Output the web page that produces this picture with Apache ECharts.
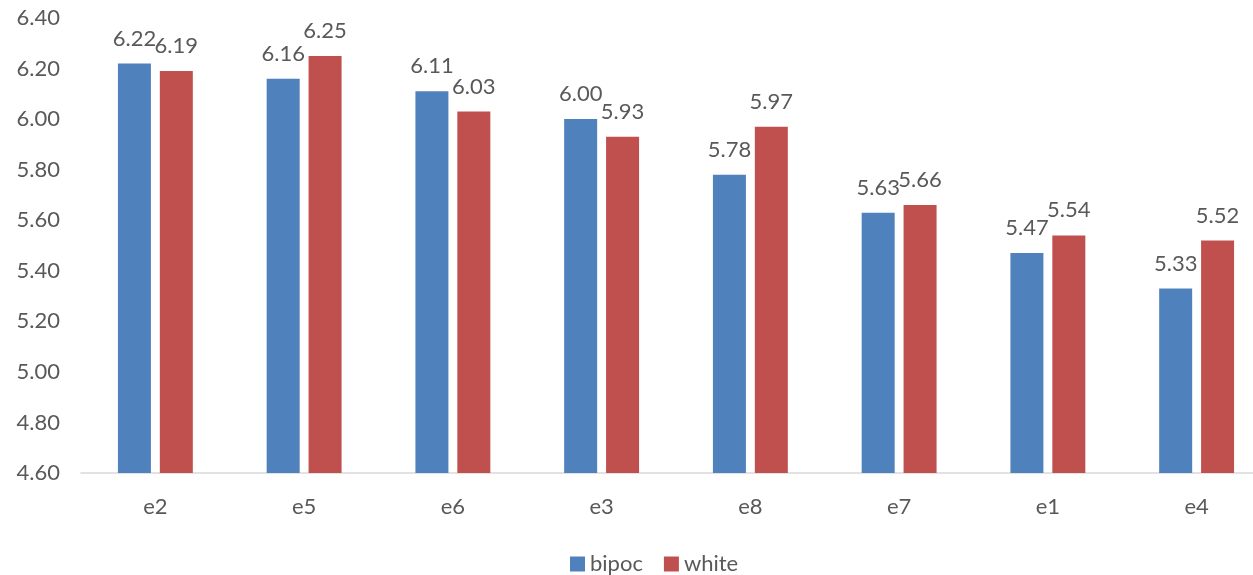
<!DOCTYPE html>
<html>
<head>
<meta charset="utf-8">
<script src="https://cdn.jsdelivr.net/npm/echarts@6/dist/echarts.min.js"></script>
<style>
  html, body { margin: 0; padding: 0; background: #fff; }
  #chart { width: 1253px; height: 575px; }
</style>
</head>
<body>
<div id="chart"></div>
<script>
// Categories and mean scores per group
const categories = ['e2', 'e5', 'e6', 'e3', 'e8', 'e7', 'e1', 'e4'];
const bipoc = [6.22, 6.16, 6.11, 6.00, 5.78, 5.63, 5.47, 5.33];
const white = [6.19, 6.25, 6.03, 5.93, 5.97, 5.66, 5.54, 5.52];
const seriesNames = ['bipoc', 'white'];

const textColor = '#595959';
const fontFamily = 'Lato, "Open Sans", sans-serif';
const fontSize = 22;

const chart = echarts.init(document.getElementById('chart'));

const labelStyle = {
  show: true,
  position: 'top',
  distance: 14,
  color: textColor,
  fontSize: fontSize,
  fontFamily: fontFamily,
  formatter: p => p.value.toFixed(2)
};

chart.setOption({
  animation: false,
  // plot area runs past the right edge, so the last category is partly clipped
  grid: { left: 81, width: 1190, top: 18, bottom: 102, outerBoundsMode: 'none', containLabel: false },
  legend: {
    data: seriesNames,
    left: 565,
    top: 548,
    itemWidth: 15,
    itemHeight: 15,
    itemGap: 21,
    icon: 'rect',
    textStyle: { color: textColor, fontSize: fontSize, fontFamily: fontFamily }
  },
  xAxis: {
    type: 'category',
    data: categories,
    axisLine: { lineStyle: { color: '#d9d9d9', width: 1.5 } },
    axisTick: { show: false },
    axisLabel: { color: textColor, fontSize: fontSize, fontFamily: fontFamily, margin: 23 }
  },
  yAxis: {
    type: 'value',
    min: 4.6,
    max: 6.4,
    interval: 0.2,
    axisLine: { show: false },
    axisTick: { show: false },
    splitLine: { show: false },
    axisLabel: {
      color: textColor,
      fontSize: fontSize,
      fontFamily: fontFamily,
      margin: 21,
      formatter: v => v.toFixed(2)
    }
  },
  series: [
    {
      name: seriesNames[0],
      type: 'bar',
      data: bipoc,
      barWidth: 33,
      barGap: '27%',
      itemStyle: { color: '#4F81BD' },
      label: labelStyle
    },
    {
      name: seriesNames[1],
      type: 'bar',
      data: white,
      barWidth: 33,
      itemStyle: { color: '#C0504D' },
      label: labelStyle
    }
  ]
});
</script>
</body>
</html>
